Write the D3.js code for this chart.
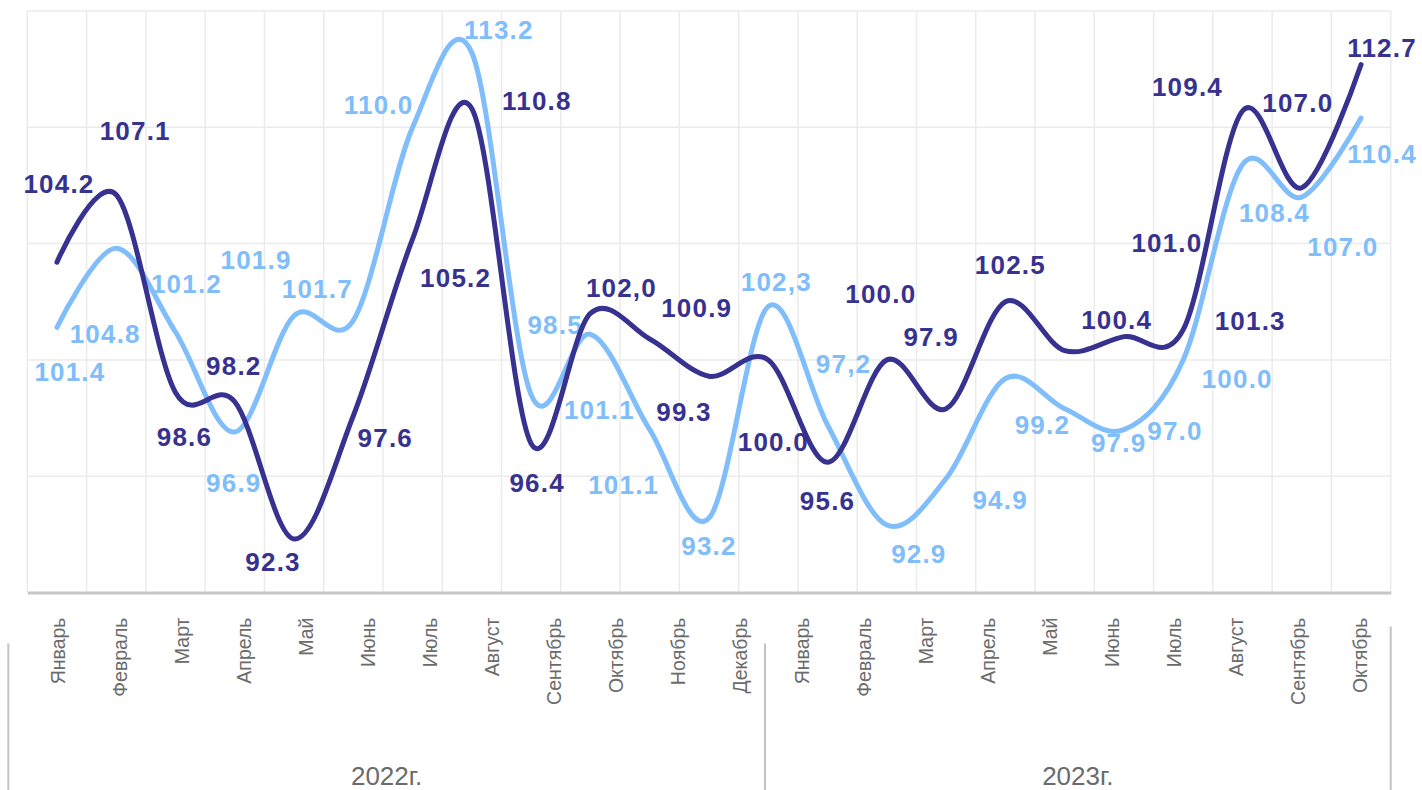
<!DOCTYPE html>
<html>
<head>
<meta charset="utf-8">
<script src="https://cdn.jsdelivr.net/npm/d3@7"></script>
<style>
  body { margin: 0; background: #fff; }
  svg { display: block; font-family: "Liberation Sans", Arial, sans-serif; }
</style>
</head>
<body>
<div id="chart"></div>
<script>
// подписи оси X
const months2022 = ["Январь", "Февраль", "Март", "Апрель", "Май", "Июнь", "Июль", "Август", "Сентябрь", "Октябрь", "Ноябрь", "Декабрь"];
const months2023 = ["Январь", "Февраль", "Март", "Апрель", "Май", "Июнь", "Июль", "Август", "Сентябрь", "Октябрь"];
const years = ["2022г.", "2023г."];

const darkValues = [104.2, 107.1, 98.6, 98.2, 92.3, 97.6, 105.2, 110.8, 96.4, 102.0, 100.9, 99.3, 100.0, 95.6, 100.0, 97.9, 102.5, 100.4, 101.0, 101.3, 110.7, 107.4, 112.7];
const lightValues = [101.4, 104.8, 101.2, 96.9, 101.9, 101.7, 110.0, 113.2, 98.5, 101.1, 97.0, 93.2, 102.3, 97.2, 92.9, 94.9, 99.2, 97.9, 97.0, 100.0, 108.4, 107.0, 110.4];

// подписи данных как на картинке
const darkLabels = ["104.2", "107.1", "98.6", "98.2", "92.3", "97.6", "105.2", "110.8", "96.4", "102,0", "100.9", "99.3", "100.0", "95.6", "100.0", "97.9", "102.5", "100.4", "101.0", "101.3", "109.4", "107.0", "112.7"];
const lightLabels = ["101.4", "104.8", "101.2", "96.9", "101.9", "101.7", "110.0", "113.2", "98.5", "101.1", "101.1", "93.2", "102,3", "97,2", "92.9", "94.9", "99.2", "97.9", "97.0", "100.0", "108.4", "107.0", "110.4"];

// сдвиг подписи от точки, px
const darkOffsets = [[2, -69], [19, -55], [9, 54], [-1, -27], [-21, 32], [32, 31], [43, 48], [65, 1], [6, 48], [31, -16], [47, -22], [-25, 45],
  [5, 91], [0, 48], [-6, -57], [-15, -63], [5, -28], [52, -22], [43, -85], [67, 0], [-55, -15], [-4, -76], [21, -7]];
const lightOffsets = [[13, 54], [-11, 95], [11, -39], [-1, 60], [-38, -47], [-36, -22], [-34, -13], [27, -14], [24, -61], [9, 85], [-26, 64], [0, 37],
  [8, -15], [16, -52], [32, 38], [54, 30], [37, 55], [54, 43], [51, 10], [54, 28], [32, 57], [41, 59], [21, 45]];

const yTicks = [90, 95, 100, 105, 110, 115];

const darkColor = "#37318f";
const lightColor = "#80bdfb";

// размеры
const W = 1422, H = 790;
const margin = { top: 11, right: 31.3, bottom: 197.5, left: 27.3 };
const width = W - margin.left - margin.right;
const height = H - margin.top - margin.bottom;

const svg = d3.select("#chart").append("svg")
  .attr("width", W)
  .attr("height", H);

const g = svg.append("g")
  .attr("transform", `translate(${margin.left},${margin.top})`);

const idx = d3.range(darkValues.length);

const x = d3.scalePoint()
  .domain(idx)
  .range([0, width])
  .padding(0.5);

const y = d3.scaleLinear()
  .domain([90, 115])
  .range([height, 0]);

// сетка
g.append("g")
  .selectAll("line")
  .data(d3.range(idx.length + 1))
  .enter().append("line")
  .attr("x1", d => d * x.step())
  .attr("x2", d => d * x.step())
  .attr("y1", 0)
  .attr("y2", height)
  .attr("stroke", "#ebebeb")
  .attr("stroke-width", 1.5);

g.append("g")
  .selectAll("line")
  .data(yTicks.slice(1))
  .enter().append("line")
  .attr("x1", 0)
  .attr("x2", width)
  .attr("y1", d => y(d))
  .attr("y2", d => y(d))
  .attr("stroke", "#ebebeb")
  .attr("stroke-width", 1.5);

// ось X с месяцами
const monthKeys = months2022.map(m => "2022|" + m).concat(months2023.map(m => "2023|" + m));
const xm = d3.scaleBand()
  .domain(monthKeys)
  .range([0, width]);

const xAxis = g.append("g")
  .attr("transform", `translate(0,${height})`)
  .call(d3.axisBottom(xm).tickSize(0).tickFormat(d => d.split("|")[1]));

xAxis.select(".domain")
  .attr("stroke", "#c6c6c6")
  .attr("stroke-width", 3);

xAxis.selectAll("text")
  .attr("transform", "rotate(-90)")
  .attr("x", -25)
  .attr("y", 0)
  .attr("dy", "0.35em")
  .attr("text-anchor", "end")
  .attr("fill", "#6b6b6b")
  .style("font-size", "19.5px")
  .style("font-family", "'Liberation Sans', Arial, sans-serif");

// группы годов
const groupEdges = [
  -19,
  xm(monthKeys[months2022.length]) - 6,
  width
];

g.append("g")
  .selectAll("line")
  .data(groupEdges)
  .enter().append("line")
  .attr("x1", d => d)
  .attr("x2", d => d)
  .attr("y1", (d, i) => i === 2 ? height + 34 : height + 51)
  .attr("y2", H)
  .attr("stroke", "#c3c3c3")
  .attr("stroke-width", 2);

g.append("g")
  .selectAll("text")
  .data(years)
  .enter().append("text")
  .attr("x", (d, i) => (groupEdges[i] + groupEdges[i + 1]) / 2)
  .attr("y", height + 192)
  .attr("text-anchor", "middle")
  .attr("fill", "#6b6b6b")
  .style("font-size", "26px")
  .style("font-family", "'Liberation Sans Narrow', 'Arial Narrow', sans-serif")
  .text(d => d);

// подписи данных (под линиями)
function drawLabels(values, labels, offsets, color) {
  g.append("g")
    .selectAll("text")
    .data(values)
    .enter().append("text")
    .attr("x", (d, i) => x(i) + offsets[i][0])
    .attr("y", (d, i) => y(d) + offsets[i][1])
    .attr("text-anchor", "middle")
    .attr("fill", color)
    .style("font-size", "26px")
    .style("font-weight", "bold")
    .style("letter-spacing", "1.2px")
    .text((d, i) => labels[i]);
}
drawLabels(lightValues, lightLabels, lightOffsets, lightColor);
drawLabels(darkValues, darkLabels, darkOffsets, darkColor);

// сглаженные линии
const line = d3.line()
  .x((d, i) => x(i))
  .y(d => y(d))
  .curve(d3.curveCardinal.tension(0));

g.append("path")
  .datum(lightValues)
  .attr("fill", "none")
  .attr("stroke", lightColor)
  .attr("stroke-width", 5)
  .attr("stroke-linecap", "round")
  .attr("d", line);

g.append("path")
  .datum(darkValues)
  .attr("fill", "none")
  .attr("stroke", darkColor)
  .attr("stroke-width", 5)
  .attr("stroke-linecap", "round")
  .attr("d", line);
</script>
</body>
</html>
